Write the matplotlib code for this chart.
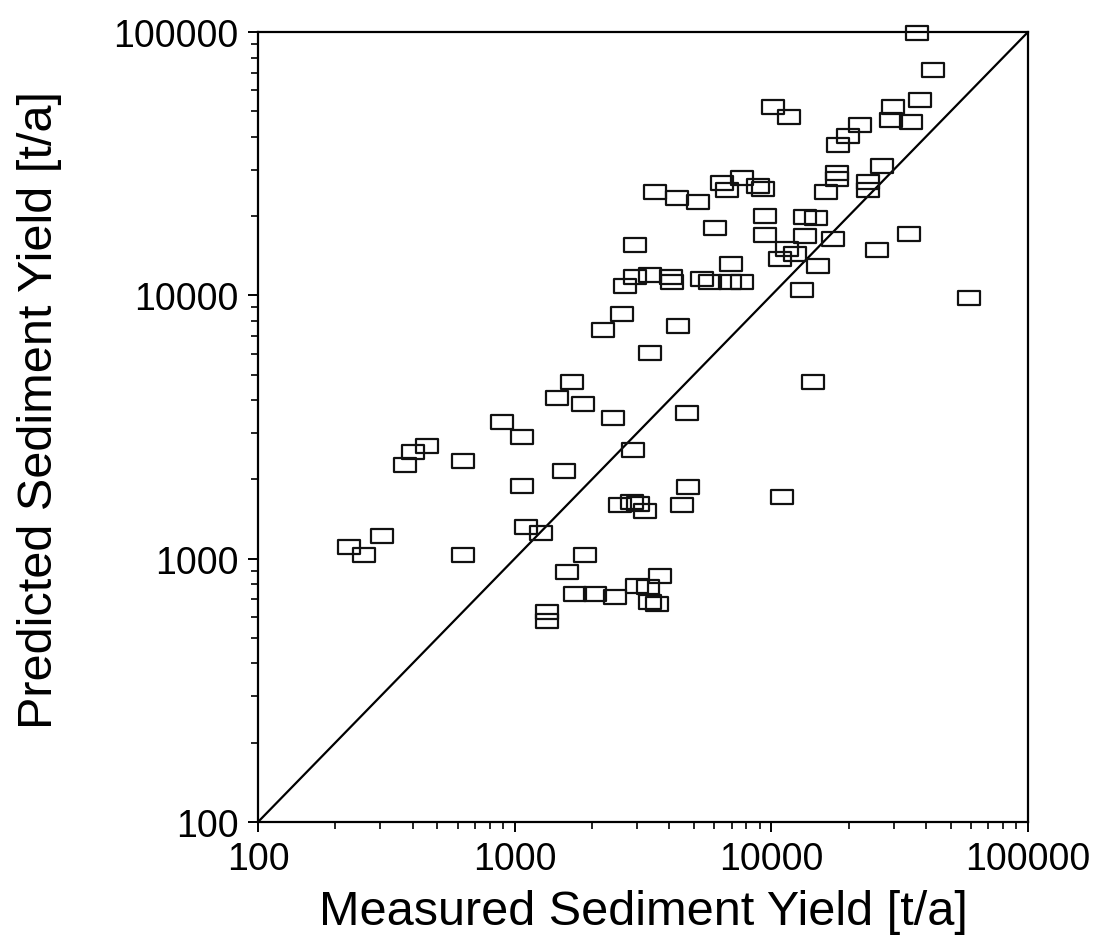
import matplotlib
matplotlib.use("Agg")
import matplotlib.pyplot as plt
from matplotlib.path import Path
from matplotlib.ticker import LogLocator, FixedLocator, FixedFormatter, NullFormatter

plt.rcParams['font.family'] = ['Liberation Sans', 'DejaVu Sans']

# Measured vs predicted sediment yield [t/a]
measured = [36900, 42650, 37900, 29800, 29240, 34990, 22140, 19880, 18170, 26970,
            18010, 18010, 23780, 23780, 16320, 10140, 11710, 3520, 4290, 5180,
            6420, 6710, 7680, 8870, 9280, 6030, 9440, 9440, 13520, 14920,
            13520, 17380, 11500, 10800, 12360, 15190, 25780, 34360, 13160, 58860,
            6960, 6900, 7680, 2690, 2940, 3370, 4060, 4100, 5370, 5770,
            2940, 2620, 2210, 3370, 4330, 14520, 4690, 1670, 1460, 1845,
            2415, 892, 1068, 455, 402, 374, 629, 2890, 1556, 1068,
            2572, 2864, 3021, 3219, 4734, 4485, 11000, 1107, 1266, 304,
            226, 259, 629, 1878, 1598, 1718, 2055, 2459, 2995, 3681,
            3306, 3367, 3584, 1336, 1336]
predicted = [99300, 71800, 55200, 51950, 46350, 45560, 44370, 40290, 37240, 30990,
             29170, 27690, 26960, 25130, 24700, 51950, 47600, 24700, 23440, 22620,
             26720, 25130, 27920, 26030, 25360, 18030, 20020, 16960, 19850, 19680,
             16810, 16380, 15010, 13750, 14360, 12930, 14870, 17110, 10480, 9775,
             13160, 11240, 11240, 10860, 11750, 11950, 11750, 11240, 11540, 11240,
             15540, 8500, 7390, 6044, 7652, 4690, 3575, 4690, 4076, 3868,
             3423, 3304, 2899, 2680, 2542, 2269, 2350, 2586, 2154, 1889,
             1599, 1642, 1613, 1518, 1872, 1599, 1716, 1319, 1252, 1220,
             1108, 1033, 1033, 1033, 890, 734, 734, 715, 787, 860,
             781, 685, 673, 628, 580]

axis_min, axis_max = 100, 100000
tick_values = [100, 1000, 10000, 100000]
tick_labels = ['100', '1000', '10000', '100000']

fig = plt.figure(figsize=(11.04, 9.45), dpi=100)
ax = fig.add_axes([258/1104, (945-823)/945, (1028-258)/1104, (823-33)/945])

# rectangular hollow marker
rect = Path([(-1.5, -1.0), (1.5, -1.0), (1.5, 1.0), (-1.5, 1.0), (-1.5, -1.0)],
            [Path.MOVETO, Path.LINETO, Path.LINETO, Path.LINETO, Path.CLOSEPOLY])

ax.plot([axis_min, axis_max], [axis_min, axis_max], color='black', lw=1.6, zorder=2)
ax.plot(measured, predicted, linestyle='none', marker=rect, markersize=15.5,
        markerfacecolor='none', markeredgecolor='#111111', markeredgewidth=1.6,
        clip_on=False, zorder=3)

ax.set_xscale('log')
ax.set_yscale('log')
ax.set_xlim(axis_min, axis_max)
ax.set_ylim(axis_min, axis_max)

for a in (ax.xaxis, ax.yaxis):
    a.set_major_locator(FixedLocator(tick_values))
    a.set_major_formatter(FixedFormatter(tick_labels))
    a.set_minor_locator(LogLocator(base=10, subs=range(2, 10)))
    a.set_minor_formatter(NullFormatter())

ax.tick_params(which='major', direction='out', length=7, width=1.4, labelsize=27, pad=7,
               top=False, right=False)
ax.tick_params(which='minor', direction='out', length=5, width=1.2,
               top=False, right=False)

for s in ax.spines.values():
    s.set_linewidth(1.6)

ax.set_xlabel('Measured Sediment Yield [t/a]', fontsize=35)
ax.set_ylabel('Predicted Sediment Yield [t/a]', fontsize=35)
ax.xaxis.set_label_coords(0.5, -0.085)
ax.yaxis.set_label_coords(-0.255, 0.523)

fig.savefig('out.png', dpi=100, facecolor='white')
